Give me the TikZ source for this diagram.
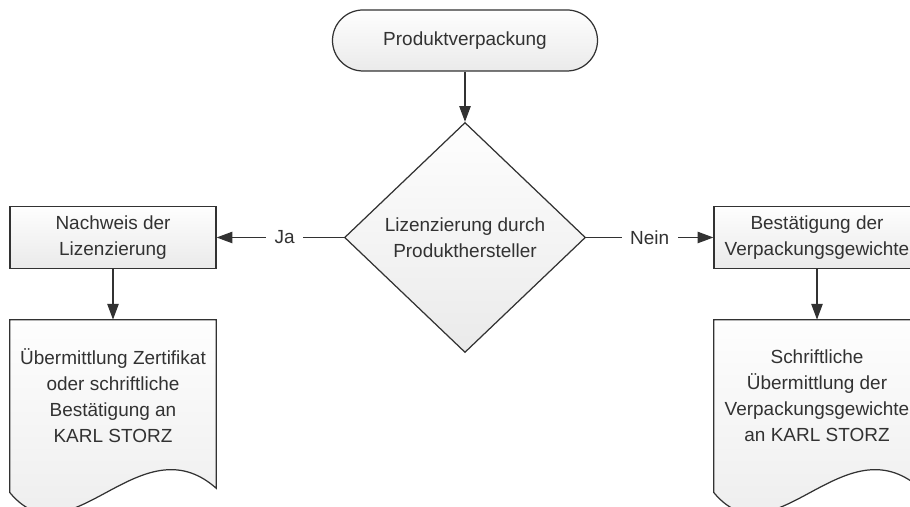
\documentclass[tikz,border=0pt]{standalone}
\usepackage{fontspec}
\setmainfont{Liberation Sans}
\usepackage{xcolor}
\definecolor{rahmen}{RGB}{50,50,50}
\definecolor{schrift}{RGB}{50,50,50}
\definecolor{hell}{RGB}{254,254,254}
\definecolor{mittel}{RGB}{234,234,234}
\usepackage{tikz}
\usetikzlibrary{
    shapes.geometric,
    arrows.meta,
    positioning,
    calc,
    backgrounds
}

\tikzset{
    box/.style={draw=rahmen, line width=0.7pt, top color=hell, bottom color=mittel,
        text=schrift, align=center, font=\fontsize{10.8}{14.8}\selectfont},
    doctext/.style={text=schrift, align=center, font=\fontsize{10.8}{14.8}\selectfont,
        minimum width=4.12cm, minimum height=3.04cm, inner sep=0pt},
    docline/.style={draw=rahmen, line width=0.7pt, top color=hell, bottom color=mittel},
    pfeil/.style={draw=rahmen, line width=0.7pt, -{Triangle[length=9pt, width=6.5pt]}},
    marke/.style={fill=white, text=schrift, inner xsep=0.17cm, inner ysep=1pt,
        font=\fontsize{10.8}{14.8}\selectfont}
}

\begin{document}
\begin{tikzpicture}
        \useasboundingbox (0, 0) rectangle (18.2, 10.14);
        \clip (0, 0) rectangle (18.2, 10.14);

        % Start
        \node[box, rounded corners=0.61cm, minimum width=5.3cm, minimum height=1.22cm, inner sep=0pt]
            (start) at (9.30, 9.33) {Produktverpackung};

        % Entscheidung
        \node[box, diamond, minimum width=4.82cm, minimum height=4.6cm, inner sep=0pt]
            (frage) at (9.30, 5.39) {Lizenzierung durch\\Produkthersteller};

        % Prozesse
        \node[box, minimum width=4.12cm, minimum height=1.24cm]
            (nachweis) at (2.26, 5.39) {Nachweis der\\Lizenzierung};
        \node[box, minimum width=4.12cm, minimum height=1.24cm]
            (bestaetigung) at (16.34, 5.39) {Bestätigung der\\Verpackungsgewichte};

        % Dokumente
        \node[doctext] (zertifikat) at (2.26, 2.22)
            {Übermittlung Zertifikat\\oder schriftliche\\Bestätigung an\\KARL STORZ};
        \node[doctext] (gewichte) at (16.34, 2.22)
            {Schriftliche\\Übermittlung der\\Verpackungsgewichte\\an KARL STORZ};

        \begin{scope}[on background layer]
            \clip (0, 0) rectangle (18.2, 10.14);
            \foreach \n in {zertifikat, gewichte}
                \draw[docline] (\n.north west) -- (\n.north east) -- ($(\n.south east)+(0,-0.32)$)
                    .. controls ($(\n.south west)+(2.6,1.04)$) and ($(\n.south west)+(1.2,-1.86)$)
                    .. ($(\n.south west)+(0,-0.4)$) -- cycle;
        \end{scope}

        % Verbindungen
        \draw[pfeil] (start.south) -- (frage.north);
        \draw[pfeil] (frage.west) -- node[marke, pos=0.465] {Ja} (nachweis.east);
        \draw[pfeil] (frage.east) -- node[marke, pos=0.5] {Nein} (bestaetigung.west);
        \draw[pfeil] (nachweis.south) -- (zertifikat.north);
        \draw[pfeil] (bestaetigung.south) -- (gewichte.north);
    \end{tikzpicture}
\end{document}
